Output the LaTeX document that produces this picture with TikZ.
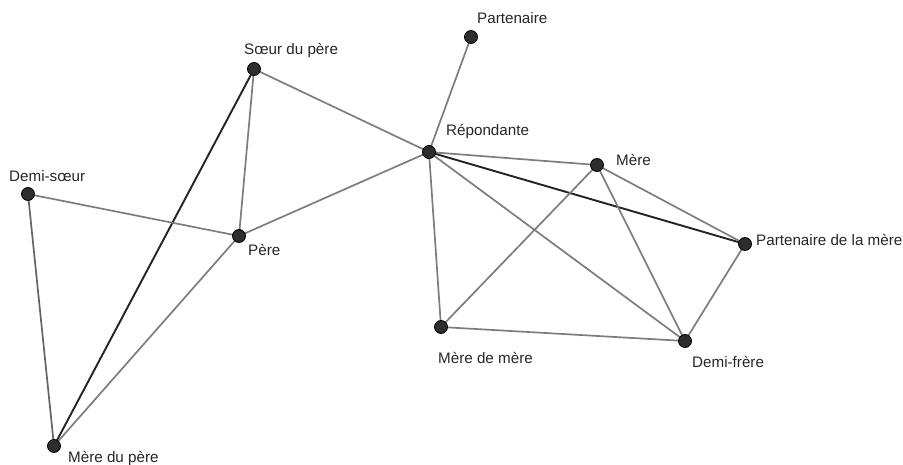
\documentclass[tikz,border=0pt]{standalone}
\usepackage{fontspec}
\setmainfont{Liberation Sans}
\usetikzlibrary{backgrounds}
\definecolor{edgegray}{RGB}{125,125,125}
\definecolor{edgedark}{RGB}{35,35,35}
\definecolor{dotfill}{RGB}{45,45,45}
\begin{document}
\begin{tikzpicture}[x=1pt,y=-1pt,
  person/.style={circle,fill=dotfill,draw=black,line width=0.8pt,minimum size=13pt,inner sep=0pt},
  lab/.style={font=\fontsize{15.2}{17}\selectfont,text=black!85,inner sep=0pt,anchor=west},
  tie/.style={draw=edgegray,line width=1.7pt},
  strong/.style={draw=edgedark,line width=1.9pt}]
\useasboundingbox (0,0) rectangle (903,465);
\node[person] (part) at (471,37) {};
\node[person] (soeur) at (254,69) {};
\node[person] (rep) at (429,152) {};
\node[person] (mere) at (597,165) {};
\node[person] (pmere) at (745,244) {};
\node[person] (dsoeur) at (28,194) {};
\node[person] (pere) at (239,236) {};
\node[person] (mm) at (441,327) {};
\node[person] (dfrere) at (685,341) {};
\node[person] (mpere) at (54,446) {};

\node[lab] (lpart) at (477,18) {Partenaire};
\node[lab] (lsoeur) at (244,50) {Sœur du père};
\node[lab] (lrep) at (446,131) {Répondante};
\node[lab] (lmere) at (616,160) {Mère};
\node[lab] (lpmere) at (756,240) {Partenaire de la mère};
\node[lab] (ldsoeur) at (9,176) {Demi-sœur};
\node[lab] (lpere) at (248,250) {Père};
\node[lab] (lmm) at (438,358) {Mère de mère};
\node[lab] (ldfrere) at (692,362) {Demi-frère};
\node[lab] (lmpere) at (68,458) {Mère du père};

\begin{scope}[on background layer]
\path[tie] (part.center) -- (rep.center);
\path[tie] (soeur.center) -- (rep.center);
\path[tie] (soeur.center) -- (pere.center);
\path[strong] (soeur.center) -- (mpere.center);
\path[tie] (dsoeur.center) -- (pere.center);
\path[tie,draw=edgegray!80!black] (dsoeur.center) -- (mpere.center);
\path[tie] (pere.center) -- (rep.center);
\path[tie] (pere.center) -- (mpere.center);
\path[tie] (rep.center) -- (mere.center);
\path[strong] (rep.center) -- (pmere.center);
\path[tie] (rep.center) -- (mm.center);
\path[tie] (rep.center) -- (dfrere.center);
\path[tie] (mere.center) -- (pmere.center);
\path[tie] (mere.center) -- (dfrere.center);
\path[tie] (mere.center) -- (mm.center);
\path[tie] (mm.center) -- (dfrere.center);
\path[tie] (pmere.center) -- (dfrere.center);
\end{scope}
\end{tikzpicture}
\end{document}
